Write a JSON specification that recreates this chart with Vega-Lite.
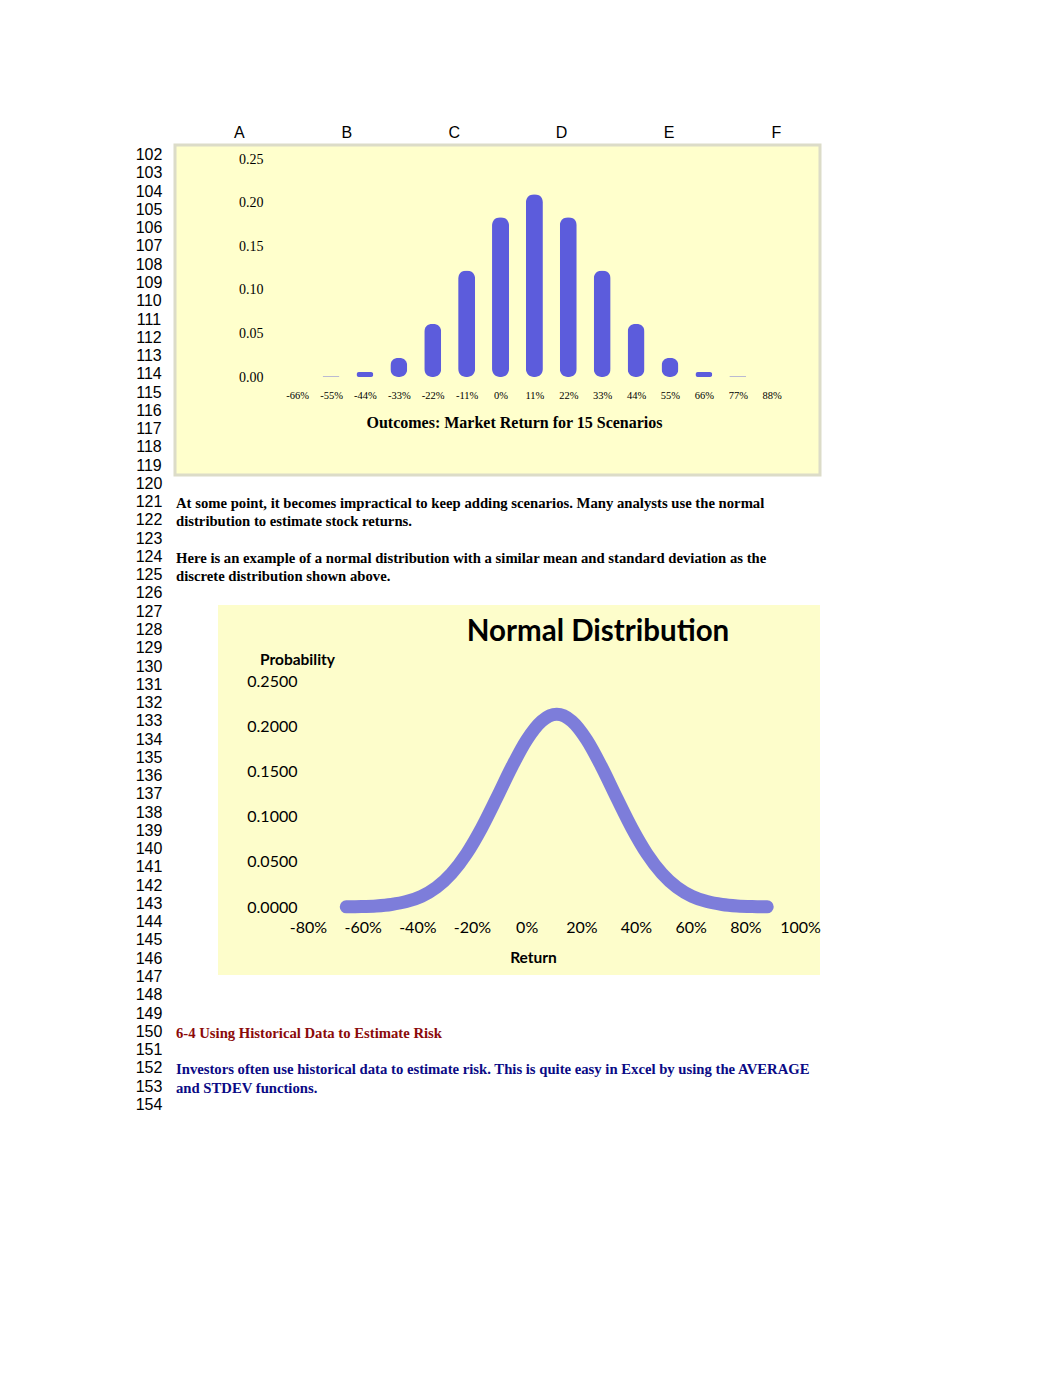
{
  "$schema": "https://vega.github.io/schema/vega-lite/v6.json",
  "background": "#ffffff",
  "padding": {"left": 120, "top": 115, "right": 0, "bottom": 0},
  "config": {"view": {"stroke": null}},
  "datasets": {
    "cols": [{"col": "A"}, {"col": "B"}, {"col": "C"}, {"col": "D"}, {"col": "E"}, {"col": "F"}],
    "rows": [{"row":102},{"row":103},{"row":104},{"row":105},{"row":106},{"row":107},{"row":108},{"row":109},{"row":110},{"row":111},{"row":112},{"row":113},{"row":114},{"row":115},{"row":116},{"row":117},{"row":118},{"row":119},{"row":120},{"row":121},{"row":122},{"row":123},{"row":124},{"row":125},{"row":126},{"row":127},{"row":128},{"row":129},{"row":130},{"row":131},{"row":132},{"row":133},{"row":134},{"row":135},{"row":136},{"row":137},{"row":138},{"row":139},{"row":140},{"row":141},{"row":142},{"row":143},{"row":144},{"row":145},{"row":146},{"row":147},{"row":148},{"row":149},{"row":150},{"row":151},{"row":152},{"row":153},{"row":154}],
    "paras": [
      {"row": 121, "kind": "body", "text": "At some point, it becomes impractical to keep adding scenarios. Many analysts use the normal"},
      {"row": 122, "kind": "body", "text": "distribution to estimate stock returns."},
      {"row": 124, "kind": "body", "text": "Here is an example of a normal distribution with a similar mean and standard deviation as the"},
      {"row": 125, "kind": "body", "text": "discrete distribution shown above."},
      {"row": 150, "kind": "heading", "text": "6-4 Using Historical Data to Estimate Risk"},
      {"row": 152, "kind": "note", "text": "Investors often use historical data to estimate risk. This is quite easy in Excel by using the AVERAGE"},
      {"row": 153, "kind": "note", "text": "and STDEV functions."}
    ],
    "scen": [
      {"ret": -66, "p": 0.00006},
      {"ret": -55, "p": 0.00085},
      {"ret": -44, "p": 0.0056},
      {"ret": -33, "p": 0.0222},
      {"ret": -22, "p": 0.0611},
      {"ret": -11, "p": 0.1222},
      {"ret": 0, "p": 0.1833},
      {"ret": 11, "p": 0.2095},
      {"ret": 22, "p": 0.1833},
      {"ret": 33, "p": 0.1222},
      {"ret": 44, "p": 0.0611},
      {"ret": 55, "p": 0.0222},
      {"ret": 66, "p": 0.0056},
      {"ret": 77, "p": 0.00085},
      {"ret": 88, "p": 0.00006}
    ],
    "curve": [
      {"r": -0.66, "p": 0.000194},
      {"r": -0.605, "p": 0.00051},
      {"r": -0.55, "p": 0.001246},
      {"r": -0.495, "p": 0.002833},
      {"r": -0.44, "p": 0.005998},
      {"r": -0.385, "p": 0.01182},
      {"r": -0.33, "p": 0.02168},
      {"r": -0.275, "p": 0.03705},
      {"r": -0.22, "p": 0.05895},
      {"r": -0.165, "p": 0.08733},
      {"r": -0.11, "p": 0.1204},
      {"r": -0.055, "p": 0.1546},
      {"r": 0.0, "p": 0.1848},
      {"r": 0.055, "p": 0.2057},
      {"r": 0.11, "p": 0.2132},
      {"r": 0.165, "p": 0.2057},
      {"r": 0.22, "p": 0.1848},
      {"r": 0.275, "p": 0.1546},
      {"r": 0.33, "p": 0.1204},
      {"r": 0.385, "p": 0.08733},
      {"r": 0.44, "p": 0.05895},
      {"r": 0.495, "p": 0.03705},
      {"r": 0.55, "p": 0.02168},
      {"r": 0.605, "p": 0.01182},
      {"r": 0.66, "p": 0.005998},
      {"r": 0.715, "p": 0.002833},
      {"r": 0.77, "p": 0.001246},
      {"r": 0.825, "p": 0.00051},
      {"r": 0.88, "p": 0.000194}
    ]
  },
  "bounds": "flush",
  "spacing": 0,
  "vconcat": [
    {
      "width": 705,
      "height": 30,
      "data": {"name": "cols"},
      "mark": {"type": "text", "font": "Liberation Sans", "fontSize": 16, "color": "#000000", "baseline": "middle", "dy": 3},
      "encoding": {
        "x": {"field": "col", "type": "nominal", "scale": {"type": "point", "padding": 0.782, "align": 0.711}, "axis": null},
        "text": {"field": "col", "type": "nominal"}
      }
    },
    {
      "bounds": "flush",
      "spacing": 0,
      "hconcat": [
        {
          "width": 55,
          "height": 968,
          "layer": [
            {
              "data": {"name": "rows"},
              "mark": {"type": "text", "font": "Liberation Sans", "fontSize": 16, "color": "#000000", "align": "center", "baseline": "middle", "dx": 29, "dy": 1},
              "encoding": {
                "x": {"datum": "num", "type": "nominal", "scale": {"type": "point", "domain": ["num", "A"], "padding": 0}, "axis": null},
                "y": {"field": "row", "type": "ordinal", "scale": {"domain": [102,103,104,105,106,107,108,109,110,111,112,113,114,115,116,117,118,119,120,121,122,123,124,125,126,127,128,129,130,131,132,133,134,135,136,137,138,139,140,141,142,143,144,145,146,147,148,149,150,151,152,153,154], "paddingInner": 0, "paddingOuter": 0}, "axis": null},
                "text": {"field": "row", "type": "ordinal"}
              }
            },
            {
              "data": {"name": "paras"},
              "mark": {"type": "text", "font": "Liberation Serif", "fontSize": 14.7, "fontWeight": "bold", "align": "left", "baseline": "middle", "dx": 1, "dy": 3},
              "encoding": {
                "x": {"datum": "A", "type": "nominal"},
                "y": {"field": "row", "type": "ordinal"},
                "text": {"field": "text", "type": "nominal"},
                "color": {"field": "kind", "type": "nominal", "scale": {"domain": ["body", "heading", "note"], "range": ["#000000", "#8b0a0a", "#0a0a85"]}, "legend": null}
              }
            }
          ]
        },
        {
          "bounds": "flush",
          "spacing": 130,
          "vconcat": [
            {
              "width": 645,
              "height": 330,
              "view": {"fill": "#ffffcc", "stroke": "#dcdcc8", "strokeWidth": 3},
              "data": {"name": "scen"},
              "mark": {"type": "bar", "color": "#5c5cdc", "cornerRadius": 8, "width": 17, "orient": "vertical"},
              "encoding": {
                "x": {
                  "field": "ret", "type": "quantitative",
                  "scale": {"domain": [-104.02, 102.06], "nice": false, "zero": false},
                  "axis": {"offset": -95, "values": [-66, -55, -44, -33, -22, -11, 0, 11, 22, 33, 44, 55, 66, 77, 88], "labelExpr": "datum.value + '%'", "domain": false, "ticks": false, "tickSize": 0, "grid": false, "labelAngle": 0, "labelFont": "Liberation Serif", "labelFontSize": 10.5, "labelColor": "#000000", "labelPadding": 10, "labelOverlap": false, "title": "Outcomes: Market Return for 15 Scenarios", "titleFont": "Liberation Serif", "titleFontSize": 16, "titleFontWeight": "bold", "titleColor": "#000000", "titleX": 339, "titleY": 42, "titleBaseline": "middle", "titleAlign": "center"}
                },
                "y": {
                  "field": "p", "type": "quantitative",
                  "scale": {"domain": [-0.1124, 0.2661], "nice": false, "zero": false},
                  "axis": {"offset": -95, "values": [0, 0.05, 0.1, 0.15, 0.2, 0.25], "format": ".2f", "domain": false, "ticks": false, "tickSize": 0, "grid": false, "labelFont": "Liberation Serif", "labelFontSize": 14, "labelColor": "#000000", "labelPadding": 7, "title": null}
                }
              }
            },
            {
              "bounds": "flush",
              "spacing": 0,
              "hconcat": [
                {
                  "width": 43,
                  "height": 370,
                  "data": {"values": [{"a": 1}]},
                  "mark": {"type": "text", "text": ""},
                  "encoding": {}
                },
                {
                  "width": 602,
                  "height": 370,
                  "view": {"fill": "#fdfdcb", "stroke": null},
                  "title": {"text": "Normal Distribution", "font": "Lato", "fontSize": 29.5, "fontWeight": "bold", "color": "#000000", "frame": "group", "anchor": "middle", "baseline": "middle", "offset": -26, "dx": 79, "dy": 30},
                  "data": {"name": "curve"},
                  "mark": {"type": "line", "color": "#6b6bdc", "strokeWidth": 13, "strokeCap": "round", "strokeJoin": "round", "interpolate": "monotone", "opacity": 0.88},
                  "encoding": {
                    "x": {
                      "field": "r", "type": "quantitative",
                      "scale": {"domain": [-1.1293, 1.0732], "nice": false, "zero": false},
                      "axis": {"offset": -60, "values": [-0.8, -0.6, -0.4, -0.2, 0, 0.2, 0.4, 0.6, 0.8, 1.0], "labelExpr": "round(datum.value * 100) + '%'", "domain": false, "ticks": false, "tickSize": 0, "grid": false, "labelFont": "Lato", "labelFontSize": 16, "labelColor": "#000000", "labelPadding": 4, "labelOverlap": false, "title": "Return", "titleFont": "Lato", "titleFontSize": 15.5, "titleFontWeight": "bold", "titleColor": "#000000", "titleX": 315, "titleY": 42, "titleBaseline": "middle", "titleAlign": "center"}
                    },
                    "y": {
                      "field": "p", "type": "quantitative",
                      "scale": {"domain": [-0.0752, 0.3341], "nice": false, "zero": false},
                      "axis": {"offset": -85, "values": [0, 0.05, 0.1, 0.15, 0.2, 0.25], "format": ".4f", "domain": false, "ticks": false, "tickSize": 0, "grid": false, "labelFont": "Lato", "labelFontSize": 16, "labelColor": "#000000", "labelPadding": 6, "title": "Probability", "titleFont": "Lato", "titleFontSize": 15.5, "titleFontWeight": "bold", "titleColor": "#000000", "titleAngle": 0, "titleX": -6, "titleY": 54, "titleAlign": "center", "titleBaseline": "middle"}
                    }
                  }
                }
              ]
            }
          ]
        }
      ]
    }
  ]
}
